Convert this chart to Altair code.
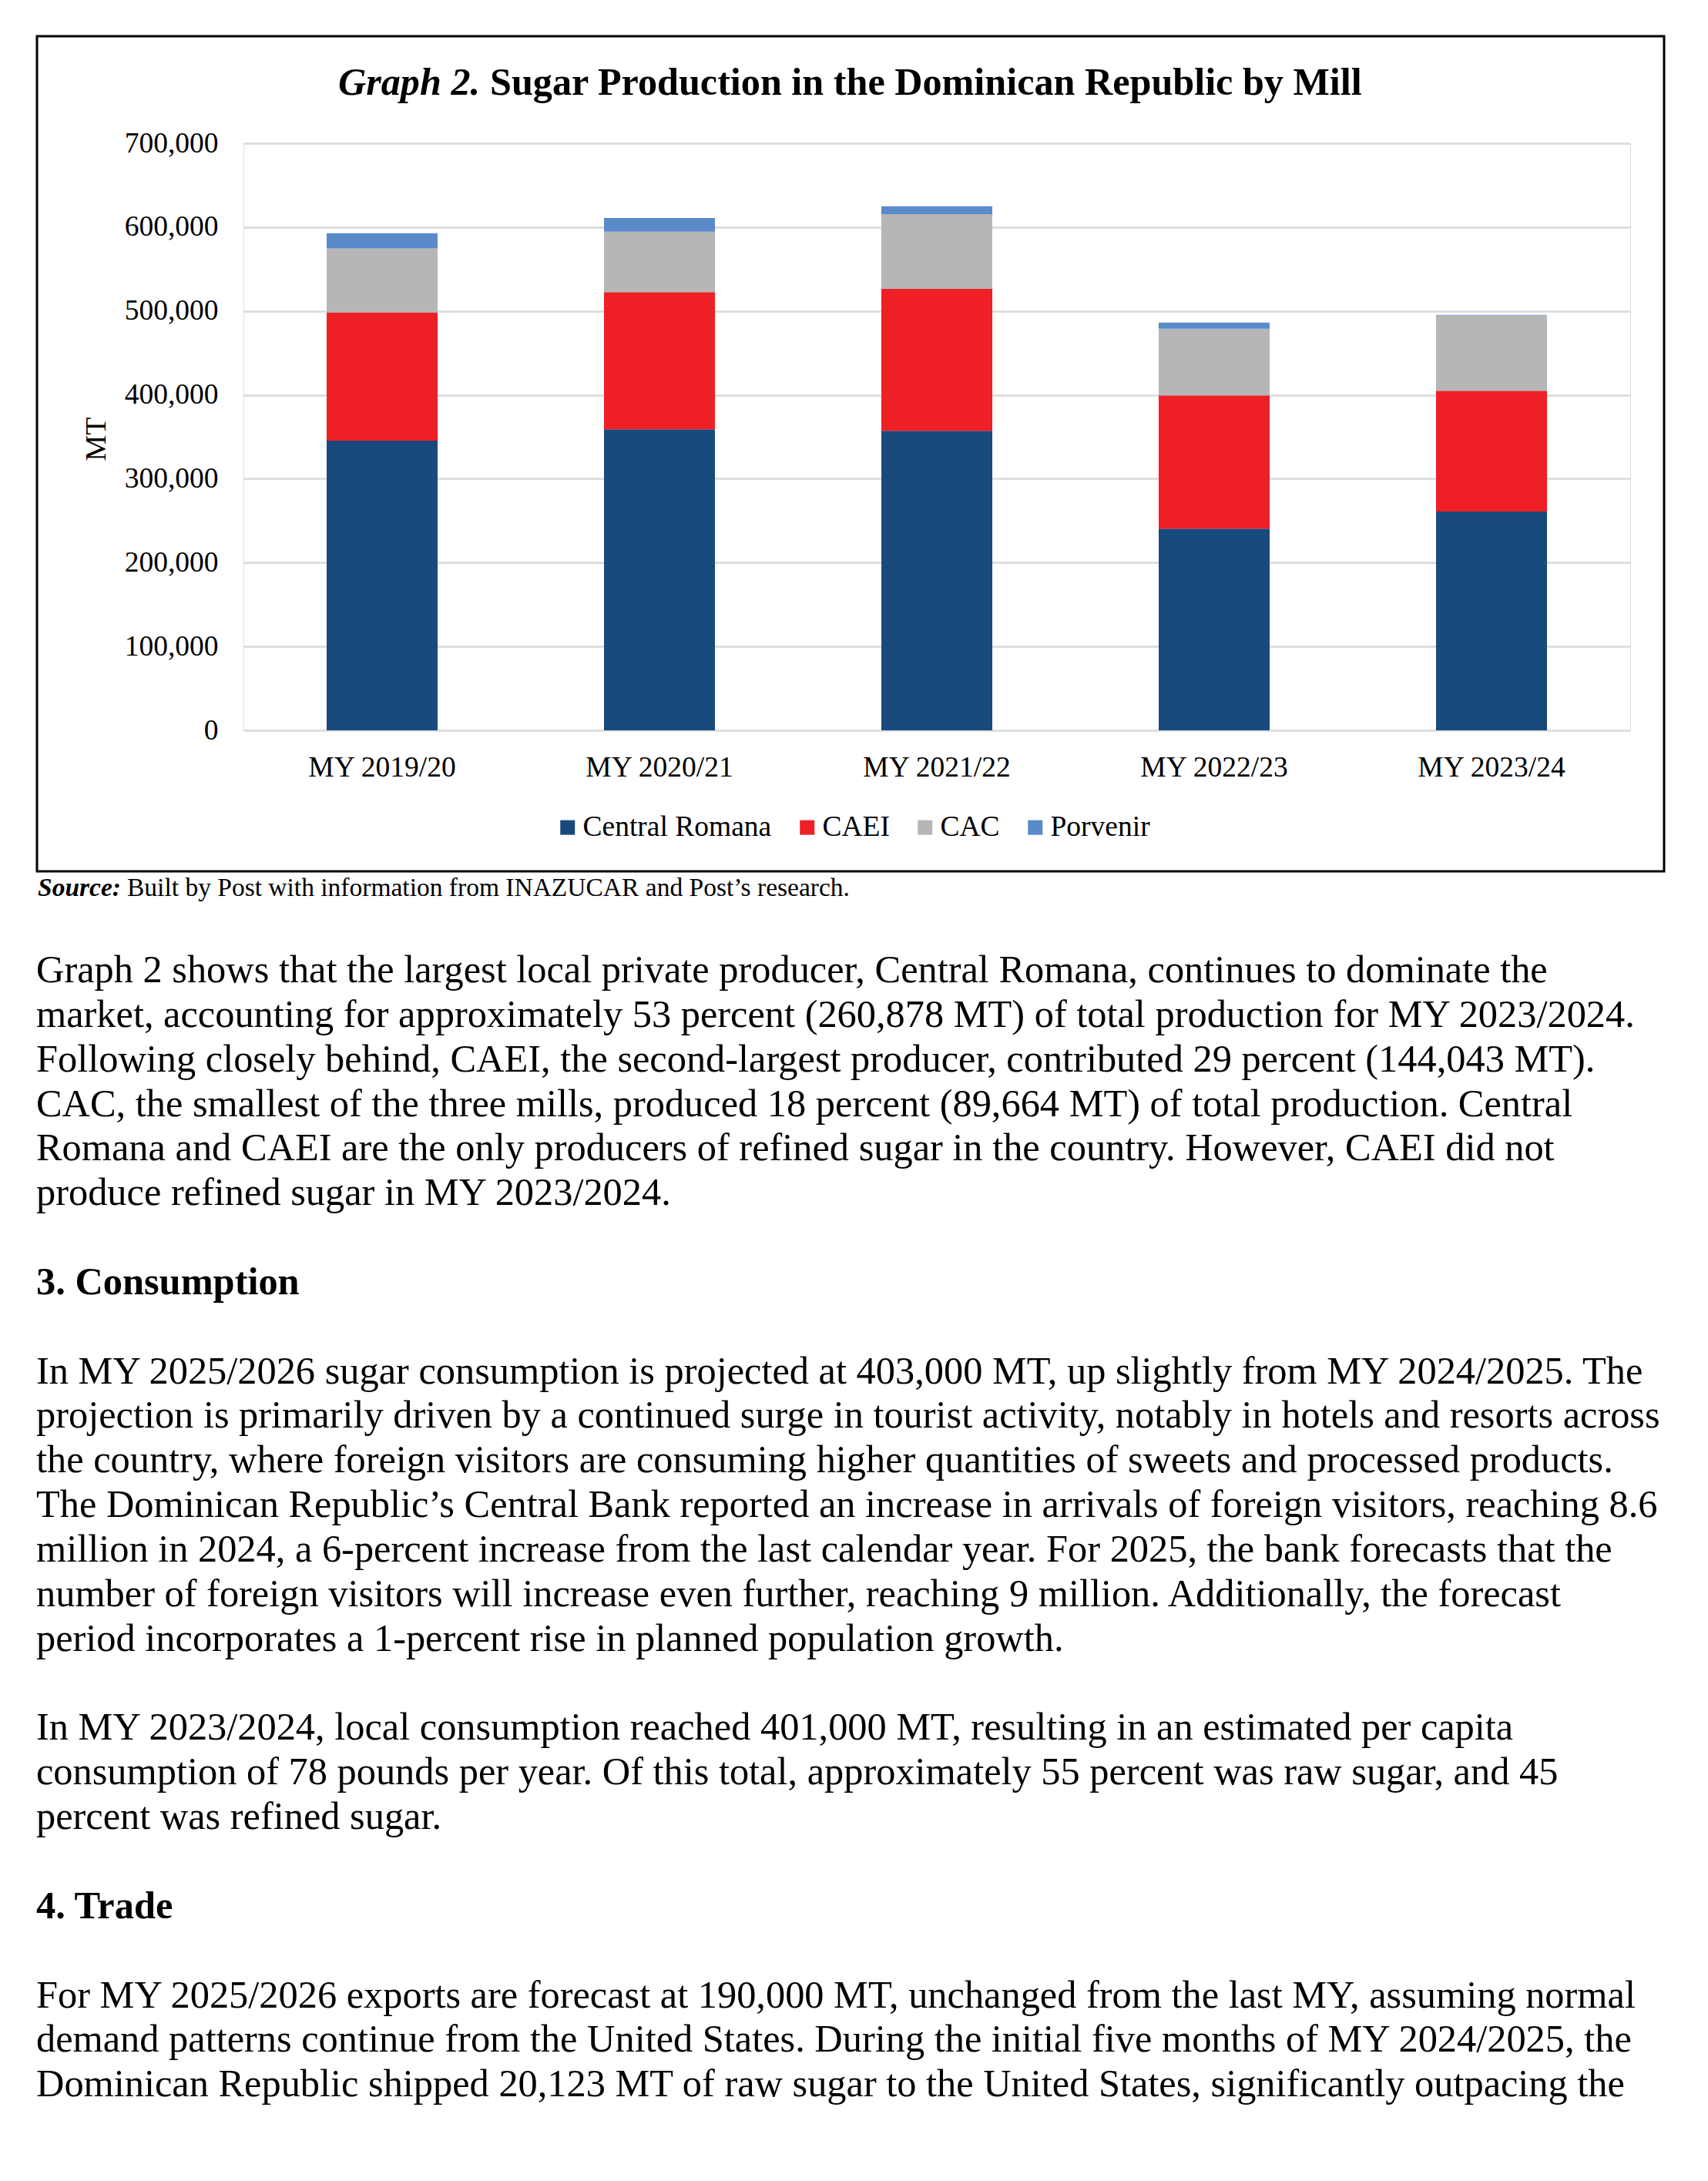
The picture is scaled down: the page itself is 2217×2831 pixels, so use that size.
import altair as alt
import pandas as pd

# ---------------- data ----------------
years = ["MY 2019/20", "MY 2020/21", "MY 2021/22", "MY 2022/23", "MY 2023/24"]
mills = ["Central Romana", "CAEI", "CAC", "Porvenir"]
central_romana = [345500, 359000, 357200, 240500, 260878]
caei = [152900, 163500, 169100, 158800, 144043]
cac = [76300, 72200, 89300, 79600, 89664]
porvenir = [18000, 16200, 9400, 7300, 800]
mill_colors = ["#184A7E", "#EE1F25", "#B5B6B5", "#5A8ACA"]
y_ticks = [0, 100000, 200000, 300000, 400000, 500000, 600000, 700000]

title_italic = "Graph 2."
title_rest = "Sugar Production in the Dominican Republic by Mill"
y_title = "MT"
source_bold = "Source:"
source_rest = "Built by Post with information from INAZUCAR and Post\u2019s research."

para1 = [
    "Graph 2 shows that the largest local private producer, Central Romana, continues to dominate the",
    "market, accounting for approximately 53 percent (260,878 MT) of total production for MY 2023/2024.",
    "Following closely behind, CAEI, the second-largest producer, contributed 29 percent (144,043 MT).",
    "CAC, the smallest of the three mills, produced 18 percent (89,664 MT) of total production. Central",
    "Romana and CAEI are the only producers of refined sugar in the country. However, CAEI did not",
    "produce refined sugar in MY 2023/2024.",
]
heading3 = "3. Consumption"
para2 = [
    "In MY 2025/2026 sugar consumption is projected at 403,000 MT, up slightly from MY 2024/2025. The",
    "projection is primarily driven by a continued surge in tourist activity, notably in hotels and resorts across",
    "the country, where foreign visitors are consuming higher quantities of sweets and processed products.",
    "The Dominican Republic\u2019s Central Bank reported an increase in arrivals of foreign visitors, reaching 8.6",
    "million in 2024, a 6-percent increase from the last calendar year. For 2025, the bank forecasts that the",
    "number of foreign visitors will increase even further, reaching 9 million. Additionally, the forecast",
    "period incorporates a 1-percent rise in planned population growth.",
]
para3 = [
    "In MY 2023/2024, local consumption reached 401,000 MT, resulting in an estimated per capita",
    "consumption of 78 pounds per year. Of this total, approximately 55 percent was raw sugar, and 45",
    "percent was refined sugar.",
]
heading4 = "4. Trade"
para4 = [
    "For MY 2025/2026 exports are forecast at 190,000 MT, unchanged from the last MY, assuming normal",
    "demand patterns continue from the United States. During the initial five months of MY 2024/2025, the",
    "Dominican Republic shipped 20,123 MT of raw sugar to the United States, significantly outpacing the",
]

rows = []
for i, yr in enumerate(years):
    for k, (m, vals) in enumerate(zip(mills, [central_romana, caei, cac, porvenir])):
        rows.append({"year": yr, "mill": m, "mt": vals[i], "order": k})
df = pd.DataFrame(rows)

# ---------------- layout ----------------
W, H = 1800, 762
OX, OY = 316, 186          # page position of the plot origin
CANVAS_W, CANVAS_H = 2201, 2815
FONT = "Liberation Serif"
AX_FS = 37.5
BODY_FS = 50.4
TITLE_FS = 50.2
LH = 57.85
BODY_Y0 = 1275


def px(x):
    return x - OX


def py(y):
    return y - OY


def blank():
    return alt.Chart(alt.Data(values=[{"k": 0}]))


def text_layer(txt, x, y, size, weight="normal", style="normal", align="left",
               baseline="alphabetic", angle=0):
    kw = dict(text=txt, font=FONT, fontSize=size, fontWeight=weight, fontStyle=style,
              align=align, baseline=baseline, color="black")
    if isinstance(txt, list):
        kw["lineHeight"] = LH
    if angle:
        kw["angle"] = angle
    return blank().mark_text(**kw).encode(x=alt.value(px(x)), y=alt.value(py(y)))


bars = alt.Chart(df).mark_bar().encode(
    x=alt.X("year:N", sort=years,
            scale=alt.Scale(paddingInner=0.6, paddingOuter=0.3),
            axis=alt.Axis(title=None, labelAngle=0, labelFont=FONT, labelFontSize=AX_FS,
                          labelColor="black", labelPadding=29, labelLimit=600,
                          ticks=False, tickSize=0, domain=False, grid=False)),
    y=alt.Y("mt:Q", stack="zero",
            scale=alt.Scale(domain=[0, 700000], nice=False),
            axis=alt.Axis(title=None, values=y_ticks, format=",.0f", labelFont=FONT,
                          labelFontSize=AX_FS, labelColor="black", labelPadding=33,
                          labelLimit=600, ticks=False, tickSize=0, domain=False,
                          grid=True, gridColor="#D9D9D9", gridWidth=2.5)),
    color=alt.Color("mill:N", scale=alt.Scale(domain=mills, range=mill_colors),
                    legend=alt.Legend(title=None, orient="none", legendX=px(718),
                                      legendY=py(1055), direction="horizontal",
                                      symbolType="square", symbolSize=361,
                                      symbolStrokeWidth=0, labelFont=FONT,
                                      labelFontSize=AX_FS, labelColor="black",
                                      labelLimit=600, labelOffset=1, columnPadding=27,
                                      padding=0)),
    order=alt.Order("order:Q", sort="ascending"),
)

border = blank().mark_rect(fillOpacity=0, stroke="black", strokeWidth=3).encode(
    x=alt.value(px(48)), x2=alt.value(px(2160)),
    y=alt.value(py(47)), y2=alt.value(py(1131)),
)

layers = [
    border,
    bars,
    text_layer(title_italic, 439, 123, TITLE_FS, weight="bold", style="italic"),
    text_layer(title_rest, 636, 123, TITLE_FS, weight="bold"),
    text_layer(y_title, 126, 570, 38, align="center", baseline="middle", angle=270),
    text_layer(source_bold, 49, 1163, 33.5, weight="bold", style="italic"),
    text_layer(source_rest, 165, 1163, 33.5),
    text_layer(para1, 47, BODY_Y0, BODY_FS),
    text_layer(heading3, 47, BODY_Y0 + 7 * LH, BODY_FS, weight="bold"),
    text_layer(para2, 47, BODY_Y0 + 9 * LH, BODY_FS),
    text_layer(para3, 47, BODY_Y0 + 17 * LH, BODY_FS),
    text_layer(heading4, 47, BODY_Y0 + 21 * LH, BODY_FS, weight="bold"),
    text_layer(para4, 47, BODY_Y0 + 23 * LH, BODY_FS),
]

chart = alt.layer(*layers).properties(
    width=W, height=H,
    autosize=alt.AutoSizeParams(type="none"),
    padding={"left": OX - 8, "top": OY - 8,
             "right": CANVAS_W - (OX - 8) - W, "bottom": CANVAS_H - (OY - 8) - H},
).configure_view(strokeWidth=0).configure(background="white")

chart.save("out.html", embed_options={"renderer": "svg", "actions": False})
